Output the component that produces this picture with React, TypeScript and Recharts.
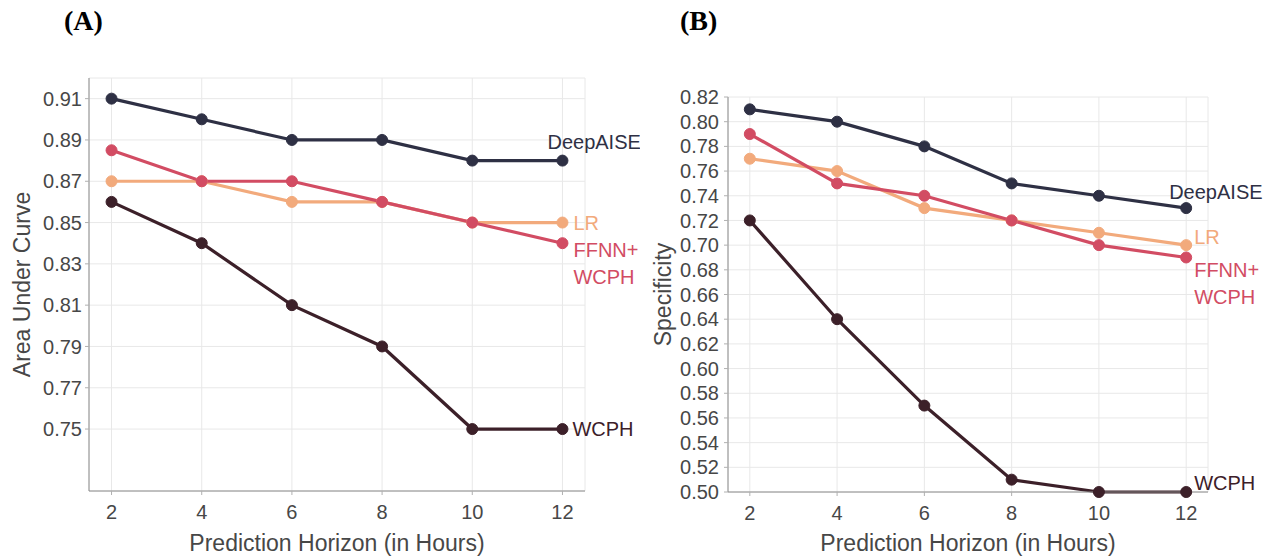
import React from "react";
import {
  CartesianGrid,
  Line,
  LineChart,
  XAxis,
  YAxis,
} from "recharts";

const hours = [2, 4, 6, 8, 10, 12];

// (A) area under curve
const aucDeepAISE = [0.91, 0.9, 0.89, 0.89, 0.88, 0.88];
const aucLR = [0.87, 0.87, 0.86, 0.86, 0.85, 0.85];
const aucFFNN = [0.885, 0.87, 0.87, 0.86, 0.85, 0.84];
const aucWCPH = [0.86, 0.84, 0.81, 0.79, 0.75, 0.75];
const aucTicks = [0.75, 0.77, 0.79, 0.81, 0.83, 0.85, 0.87, 0.89, 0.91];

// (B) specificity
const specDeepAISE = [0.81, 0.8, 0.78, 0.75, 0.74, 0.73];
const specLR = [0.77, 0.76, 0.73, 0.72, 0.71, 0.7];
const specFFNN = [0.79, 0.75, 0.74, 0.72, 0.7, 0.69];
const specWCPH = [0.72, 0.64, 0.57, 0.51, 0.5, 0.5];
const specTicks = [
  0.5, 0.52, 0.54, 0.56, 0.58, 0.6, 0.62, 0.64, 0.66, 0.68, 0.7, 0.72, 0.74,
  0.76, 0.78, 0.8, 0.82,
];

const FONT = "'Liberation Sans', Arial, Helvetica, sans-serif";
const C = {
  deep: "#2e3044",
  lr: "#f2aa7c",
  ffnn: "#d24c63",
  wcph: "#3c2029",
  text: "#474747",
  axis: "#8c8c8c",
  grid: "#e8e8e8",
};

type Off = { dx: number; dy: number };
type LabelOffsets = { deep: Off; lr: Off; ffnn: Off; wcph: Off };

const makeRows = (d: number[], lr: number[], ff: number[], w: number[]) =>
  hours.map((h, i) => ({ h, deep: d[i], lr: lr[i], ffnn: ff[i], wcph: w[i] }));

function endLabel(lines: string[], color: string, off: Off) {
  const last = hours.length - 1;
  return (p: any) => {
    if (p.index !== last) return <g key={`e-${p.index}`} />;
    return (
      <g key={`e-${p.index}`}>
        {lines.map((t, k) => (
          <text
            key={t + k}
            x={p.x + off.dx}
            y={p.y + off.dy + k * 27}
            fill={color}
            fontSize={20}
            fontFamily={FONT}
            dominantBaseline="central"
          >
            {t}
          </text>
        ))}
      </g>
    );
  };
}

function Panel({
  rows,
  yDomain,
  yTicks,
  yTitle,
  width,
  top,
  right,
  yAxisWidth,
  xAxisHeight,
  yTitleOffset,
  yTickGap,
  offs,
}: {
  rows: any[];
  yDomain: [number, number];
  yTicks: number[];
  yTitle: string;
  width: number;
  top: number;
  right: number;
  yAxisWidth: number;
  xAxisHeight: number;
  yTitleOffset: number;
  yTickGap: number;
  offs: LabelOffsets;
}) {
  const height = 559;
  const tickStyle = { fontSize: 20, fill: C.text, fontFamily: FONT };
  const line = (key: string, color: string, lines: string[], off: Off) => (
    <Line
      type="linear"
      dataKey={key}
      stroke={color}
      strokeWidth={3.2}
      dot={{ r: 5.5, fill: color, stroke: color, strokeWidth: 1 }}
      label={endLabel(lines, color, off) as never}
      isAnimationActive={false}
    />
  );
  return (
    <LineChart
      width={width}
      height={height}
      data={rows}
      margin={{ top, right, bottom: 0, left: 0 }}
    >
      <CartesianGrid stroke={C.grid} />
      <XAxis
        type="number"
        dataKey="h"
        domain={[1.5, 12.5]}
        ticks={hours}
        height={xAxisHeight}
        tick={tickStyle}
        tickSize={4}
        tickMargin={10}
        tickLine={{ stroke: "#b0b0b0" }}
        axisLine={{ stroke: C.axis }}
        label={{
          value: "Prediction Horizon (in Hours)",
          position: "insideBottom",
          offset: 8,
          style: { fontSize: 23, fill: C.text, fontFamily: FONT },
        }}
      />
      <YAxis
        type="number"
        domain={yDomain}
        ticks={yTicks}
        width={yAxisWidth}
        interval={0}
        tick={tickStyle}
        tickSize={4}
        tickMargin={yTickGap}
        tickLine={{ stroke: "#b0b0b0" }}
        axisLine={{ stroke: C.axis }}
        tickFormatter={(v: number) => v.toFixed(2)}
        label={{
          value: yTitle,
          angle: -90,
          position: "insideLeft",
          offset: yTitleOffset,
          style: {
            textAnchor: "middle",
            fontSize: 23,
            fill: C.text,
            fontFamily: FONT,
          },
        }}
      />
      {line("deep", C.deep, ["DeepAISE"], offs.deep)}
      {line("lr", C.lr, ["LR"], offs.lr)}
      {line("ffnn", C.ffnn, ["FFNN+", "WCPH"], offs.ffnn)}
      {line("wcph", C.wcph, ["WCPH"], offs.wcph)}
    </LineChart>
  );
}

const panelTag: React.CSSProperties = {
  position: "absolute",
  top: 5,
  fontFamily: "'Liberation Serif', 'Times New Roman', serif",
  fontWeight: "bold",
  fontSize: 28,
  color: "#000",
};

export default function App() {
  const rowsA = makeRows(aucDeepAISE, aucLR, aucFFNN, aucWCPH);
  const rowsB = makeRows(specDeepAISE, specLR, specFFNN, specWCPH);
  return (
    <div
      style={{
        position: "fixed",
        left: 0,
        top: 0,
        width: 1281,
        height: 559,
        background: "#fff",
        overflow: "hidden",
      }}
    >
      <div style={{ ...panelTag, left: 64 }}>(A)</div>
      <div style={{ ...panelTag, left: 680 }}>(B)</div>
      <div style={{ position: "absolute", left: 0, top: 0 }}>
        <Panel
          rows={rowsA}
          yDomain={[0.72, 0.92]}
          yTicks={aucTicks}
          yTitle="Area Under Curve"
          width={640}
          top={78}
          right={55}
          yAxisWidth={89}
          xAxisHeight={68}
          yTitleOffset={22}
          yTickGap={3}
          offs={{
            deep: { dx: -15, dy: -19 },
            lr: { dx: 11, dy: 0 },
            ffnn: { dx: 11, dy: 7 },
            wcph: { dx: 10, dy: 0 },
          }}
        />
      </div>
      <div style={{ position: "absolute", left: 640, top: 0 }}>
        <Panel
          rows={rowsB}
          yDomain={[0.5, 0.82]}
          yTicks={specTicks}
          yTitle="Specificity"
          width={641}
          top={97}
          right={73}
          yAxisWidth={88}
          xAxisHeight={67}
          yTitleOffset={23}
          yTickGap={5}
          offs={{
            deep: { dx: -17, dy: -16 },
            lr: { dx: 8, dy: -8 },
            ffnn: { dx: 8, dy: 13 },
            wcph: { dx: 8, dy: -9 },
          }}
        />
      </div>
    </div>
  );
}
